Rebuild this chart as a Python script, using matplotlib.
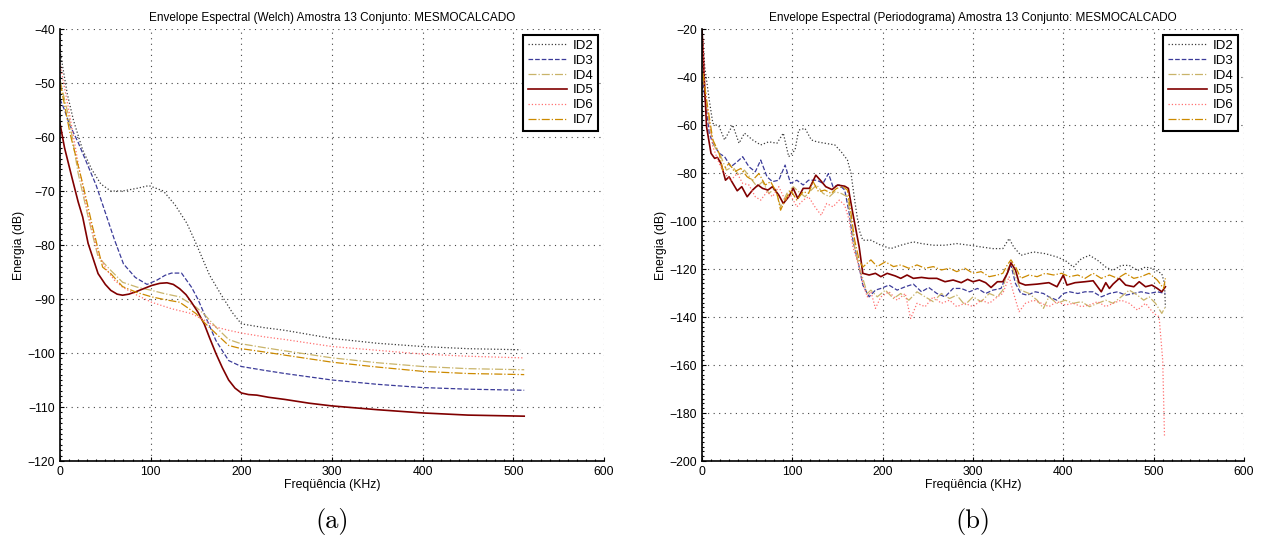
import matplotlib
matplotlib.use("Agg")
import matplotlib.pyplot as plt
from matplotlib.ticker import MultipleLocator

plt.rcParams['font.family'] = ['Liberation Sans', 'DejaVu Sans']

labels = ["ID2", "ID3", "ID4", "ID5", "ID6", "ID7"]
colors = ["#3a3a3a", "#3b3b99", "#c9b46a", "#800000", "#ff7070", "#cc8a00"]
styles = [":", "--", "-.", "-", ":", "-."]

# ---- (a) Welch ----
w_f2 = [0, 3, 8, 15, 25, 35, 45, 56, 69, 85, 98, 114, 127, 140, 150, 165, 177, 190, 200, 225, 248, 300, 350, 400, 450, 508]
w_v2 = [-44, -47, -52, -57, -62.4, -66, -68.7, -70, -70, -69.5, -69, -70, -72.6, -76, -79.7, -85.6, -89, -92.5, -94.6,
        -95.3, -95.8, -97.3, -98.2, -98.8, -99.2, -99.4]
w_f3 = [0, 5, 10, 20, 30, 40, 50, 60, 70, 83, 96, 107, 116, 123, 134, 145, 152, 159, 172, 186, 200, 225, 248, 300,
        350, 400, 450, 512]
w_v3 = [-53, -55, -57.5, -61, -65, -69, -74, -79, -83.5, -86, -87.3, -86.5, -85.6, -85.2, -85.2, -87.8, -90, -92.7,
        -97.7, -101.4, -102.5, -103.2, -103.8, -105, -105.8, -106.4, -106.7, -106.9]
w_f4 = [0, 5, 10, 20, 31, 42, 56, 69, 85, 101, 115, 132, 150, 160, 172, 186, 200, 225, 248, 300, 350, 400, 450, 512]
w_v4 = [-49.4, -53, -56.5, -66.7, -74.8, -82.2, -84.7, -86.9, -87.8, -88.4, -89, -89.6, -91.5, -93, -95.2, -97.5,
        -98.3, -99, -99.6, -100.9, -101.8, -102.5, -102.9, -103.1]
w_f5 = [0, 5, 13, 20, 25, 31, 42, 50, 56, 63, 69, 76, 83, 92, 101, 110, 118, 125, 132, 139, 145, 152, 159, 165, 172,
        179, 186, 193, 200, 208, 217, 230, 248, 275, 300, 350, 400, 450, 512]
w_v5 = [-57.5, -62, -67.4, -72, -74.8, -79.7, -85.3, -87.3, -88.4, -89.1, -89.3, -89.1, -88.7, -88.1, -87.5, -87.1,
        -87, -87.3, -88.1, -89.2, -90.6, -92.4, -94.6, -97.2, -100.1, -102.7, -105, -106.5, -107.4, -107.7, -107.8,
        -108.2, -108.6, -109.3, -109.8, -110.5, -111.1, -111.5, -111.7]
w_f6 = [0, 4, 9, 15, 20, 31, 42, 51, 60, 69, 85, 101, 123, 145, 160, 172, 186, 200, 225, 248, 300, 350, 400, 450, 510]
w_v6 = [-46.3, -50, -54.4, -60, -64.9, -74.2, -81.6, -84.5, -86.5, -87.8, -89.3, -90.6, -91.8, -92.7, -94, -95.2,
        -95.8, -96.3, -97, -97.5, -98.8, -99.5, -100.2, -100.6, -100.9]
w_f7 = [0, 5, 11, 25, 36, 47, 56, 69, 85, 101, 115, 132, 150, 160, 172, 186, 200, 225, 248, 300, 350, 400, 450, 512]
w_v7 = [-50, -54, -59.3, -68.6, -76.7, -84.1, -85.3, -87.7, -88.8, -89.6, -90.1, -90.6, -92.7, -94.5, -96.4, -98.6,
        -99.2, -99.8, -100.4, -101.7, -102.6, -103.4, -103.8, -104]

# ---- (b) Periodogram ----
p_f2 = [1, 3, 8, 12, 19, 25, 34, 41, 47, 56, 65, 74, 83, 90, 96, 103, 107, 114, 121, 127, 136, 147, 154, 161, 165,
        169, 174, 178, 187, 198, 209, 220, 234, 243, 256, 269, 282, 296, 309, 322, 333, 340, 345, 353, 367, 380, 393,
        402, 411, 420, 429, 438, 447, 455, 464, 473, 482, 491, 500, 509, 512, 513]
p_v2 = [-25, -35.6, -49.5, -59.3, -60.7, -66.2, -60, -67.6, -63.4, -66.2, -68.3, -67, -67.6, -63.4, -73.2, -70.4,
        -62.1, -61.4, -66.2, -67, -67.6, -68.3, -71.1, -74.6, -80.2, -91.3, -103.8, -108, -108, -110.1, -111.5, -110.1,
        -108.7, -109.4, -110.1, -110.1, -109.4, -110.1, -110.8, -111.5, -111.5, -107.3, -110.8, -114.3, -112.9, -113.6,
        -115, -116.4, -119.2, -115.7, -114.3, -116.4, -119.2, -120.6, -118.5, -118.5, -120.6, -119.2, -119.9, -122,
        -126, -136]
p_f3 = [1, 5, 8, 12, 19, 25, 32, 39, 45, 52, 59, 65, 72, 78, 85, 92, 98, 105, 112, 118, 127, 134, 140, 145, 152, 158,
        163, 167, 174, 178, 185, 192, 198, 207, 216, 225, 234, 243, 251, 260, 269, 278, 287, 296, 305, 314, 322, 331,
        338, 342, 347, 353, 360, 369, 378, 384, 393, 400, 407, 416, 424, 433, 442, 451, 460, 469, 478, 486, 495, 504, 513]
p_v3 = [-42.6, -53.7, -63.4, -67.6, -71.8, -73.2, -77.4, -75.3, -73.2, -77.4, -79.5, -74.6, -81.6, -83.6, -83, -76.7,
        -84.3, -83, -85, -83, -83, -84.3, -80.2, -85.7, -85, -87.1, -96.9, -108, -119.2, -126.7, -131.6, -128.8, -128.1,
        -126.7, -128.8, -127.4, -126.3, -129.5, -127.7, -130.2, -131.6, -128.1, -128.1, -129.5, -128.1, -130.2, -128.8,
        -128.1, -121.8, -118.3, -126, -130.2, -130.9, -129.5, -130.2, -131.6, -133, -130.2, -129.5, -130.2, -129.5,
        -129.5, -131.6, -130.2, -129.5, -130.9, -130.2, -129.5, -130.2, -129.5, -130.2]
p_f4 = [1, 5, 10, 14, 21, 27, 34, 41, 47, 54, 61, 67, 74, 81, 87, 94, 101, 107, 114, 121, 127, 134, 141, 147, 154, 161,
        165, 169, 174, 178, 183, 187, 194, 203, 212, 220, 229, 238, 247, 256, 265, 274, 282, 291, 300, 309, 318, 327,
        333, 338, 342, 347, 353, 362, 371, 378, 384, 393, 402, 411, 420, 429, 438, 447, 455, 464, 473, 482, 489, 495,
        502, 509, 513]
p_v4 = [-40, -52.3, -63.4, -69, -73.2, -78.8, -77.4, -80.9, -78.8, -82.3, -85.7, -83.6, -88.5, -86.4, -94.1, -88.5,
        -85.7, -87.8, -89.9, -87.1, -85, -88.5, -89.9, -87.8, -88.5, -89.9, -99.7, -110.8, -119.2, -123.9, -130.2,
        -128.8, -131.6, -128.8, -132.3, -130.2, -133, -129.5, -131.6, -133.6, -130.2, -132.3, -130.9, -135, -131.6,
        -133.6, -130.2, -131.6, -128.8, -120.4, -117.6, -123.2, -128.8, -130.2, -133, -136.4, -131.6, -134.3, -133,
        -134.3, -133.6, -135.7, -134.3, -133, -134.3, -131.6, -128.8, -130.9, -133, -131.6, -134.3, -138.5, -135.7]
p_f5 = [0, 5, 10, 14, 17, 21, 26, 30, 33, 39, 44, 50, 56, 62, 67, 73, 78, 85, 90, 96, 101, 106, 112, 119, 126, 131,
        137, 144, 150, 158, 162, 167, 174, 178, 185, 192, 198, 205, 214, 220, 227, 234, 243, 251, 260, 269, 278, 287,
        294, 300, 307, 314, 320, 327, 333, 338, 342, 347, 351, 358, 371, 384, 393, 400, 404, 413, 424, 433, 442, 447,
        451, 455, 462, 469, 478, 484, 491, 498, 504, 509, 513]
p_v5 = [-20, -60.7, -71.8, -73.9, -73.5, -76, -83, -81.6, -83.6, -87.4, -85.7, -89.9, -87.1, -85, -86.4, -87.1, -85.7,
        -89.2, -92.7, -89.9, -86.4, -90.6, -86.4, -86.4, -80.9, -83, -85.7, -86.9, -85, -85.5, -86.4, -96.9, -110.8,
        -121.8, -122.5, -121.8, -123.2, -121.8, -122.9, -123.9, -122.5, -123.9, -123.5, -123.9, -123.9, -125.3, -124.6,
        -125.7, -124.3, -125.3, -124.6, -125.7, -127.7, -125.3, -125.3, -121.8, -117.4, -120.4, -125.7, -126.7,
        -126.3, -125.7, -127.4, -122.5, -126.7, -125.7, -125.3, -124.9, -129.5, -125.7, -128.1, -126.3, -123.9,
        -126.7, -127.4, -125.3, -127.4, -126.7, -128.1, -129.5, -127.4]
p_f6 = [1, 3, 7, 12, 19, 25, 32, 39, 45, 52, 59, 65, 72, 78, 85, 92, 98, 105, 112, 118, 125, 132, 138, 145, 152, 158,
        163, 167, 174, 178, 183, 187, 192, 198, 207, 216, 225, 231, 238, 247, 256, 265, 274, 282, 291, 300, 309, 318,
        327, 333, 340, 345, 351, 358, 367, 376, 384, 393, 402, 411, 420, 429, 438, 447, 455, 464, 473, 482, 491, 500,
        506, 510, 512]
p_v6 = [-24.5, -42.6, -56.5, -69, -76, -80.2, -83, -80.2, -84.3, -85, -89.9, -91.3, -87.8, -89.9, -85.7, -91.3, -89.2,
        -94.1, -91.3, -89.9, -94.1, -97.6, -92.7, -94.1, -91.3, -93.4, -99.7, -110.8, -119.2, -126, -131.6, -129.5,
        -136.4, -131.6, -129.5, -133, -130.2, -140.6, -134.3, -135.7, -131.6, -134.3, -133, -135.7, -134.3, -135.7,
        -133, -134.3, -131.6, -130.2, -123.2, -130.2, -137.8, -134.3, -133, -134.3, -135.7, -133.6, -135, -134.3,
        -135.7, -135, -133.6, -135.7, -134.3, -133, -134.3, -137.1, -134.3, -138.5, -139.9, -158, -190]
p_f7 = [1, 5, 8, 12, 19, 23, 30, 36, 43, 50, 56, 63, 70, 76, 83, 87, 92, 98, 105, 112, 118, 123, 129, 136, 143, 149,
        156, 161, 165, 169, 174, 178, 187, 194, 203, 212, 220, 229, 238, 247, 256, 265, 274, 282, 291, 300, 309, 318,
        327, 333, 338, 342, 347, 353, 362, 371, 380, 389, 398, 407, 416, 424, 433, 442, 451, 460, 469, 478, 486, 495,
        504, 511, 513]
p_v7 = [-38.4, -49.5, -56.5, -66.2, -71.8, -78.8, -76, -79.5, -78.1, -81.6, -83, -80.2, -85, -83.6, -88.5, -95.5,
        -91.3, -87.1, -91.3, -87.8, -88.5, -83.6, -87.8, -87.1, -88.5, -86.4, -85.7, -87.1, -96.9, -108, -116.4,
        -119.2, -116.2, -119, -117, -119, -118.3, -119.7, -118.3, -119.7, -119, -120.4, -119.7, -121.1, -119.7, -121.8,
        -121.1, -123.2, -122.5, -121.8, -118.3, -116.2, -119, -123.9, -122.5, -123.2, -121.8, -122.5, -121.8, -123.2,
        -122.5, -123.9, -121.8, -123.9, -122.5, -123.9, -121.8, -123.9, -123.2, -121.8, -124.6, -128.1, -123.9]

welch = [(w_f2, w_v2), (w_f3, w_v3), (w_f4, w_v4), (w_f5, w_v5), (w_f6, w_v6), (w_f7, w_v7)]
perio = [(p_f2, p_v2), (p_f3, p_v3), (p_f4, p_v4), (p_f5, p_v5), (p_f6, p_v6), (p_f7, p_v7)]

fig = plt.figure(figsize=(12.74, 5.44), dpi=100)
ax1 = fig.add_axes([60 / 1274, 83 / 544, 544 / 1274, 432 / 544])
ax2 = fig.add_axes([702 / 1274, 83 / 544, 542 / 1274, 432 / 544])


def setup(ax, data, title, ylim, ystep, letter):
    for (f, v), lab, c, ls in zip(data, labels, colors, styles):
        lw = 1.2 if ls == "-" else 0.9
        ax.plot(f, v, ls, color=c, lw=lw, label=lab)
    ax.set_xlim(0, 600)
    ax.set_ylim(*ylim)
    ax.xaxis.set_major_locator(MultipleLocator(100))
    ax.yaxis.set_major_locator(MultipleLocator(ystep))
    ax.xaxis.set_minor_locator(MultipleLocator(10))
    ax.yaxis.set_minor_locator(MultipleLocator(ystep / 10))
    ax.grid(True, which="major", linestyle=(0, (1, 4)), color="#444444", lw=0.8)
    ax.spines["top"].set_visible(False)
    ax.spines["right"].set_visible(False)
    ax.spines["left"].set_linewidth(1.2)
    ax.spines["bottom"].set_linewidth(1.2)
    ax.tick_params(which="both", direction="in", labelsize=8.8, length=3, width=0.8)
    ax.tick_params(which="minor", length=1.5)
    ax.set_title(title, fontsize=8.5, pad=6)
    ax.set_xlabel("Freqüência (KHz)", fontsize=8.8, labelpad=1)
    ax.set_ylabel("Energia (dB)", fontsize=8.8, labelpad=2)
    leg = ax.legend(loc="upper right", fontsize=9.5, fancybox=False, framealpha=1,
                    edgecolor="black", handlelength=3.0, borderaxespad=0.45,
                    labelspacing=0.2, borderpad=0.35, handletextpad=0.4)
    leg.get_frame().set_linewidth(1.5)
    ax.text(0.5, -0.141, letter, transform=ax.transAxes, ha="center", va="center",
            fontsize=19, family="cmr10")


setup(ax1, welch, "Envelope Espectral (Welch) Amostra 13 Conjunto: MESMOCALCADO", (-120, -40), 10, "(a)")
setup(ax2, perio, "Envelope Espectral (Periodograma) Amostra 13 Conjunto: MESMOCALCADO", (-200, -20), 20, "(b)")

fig.savefig("out.png", dpi=100)
